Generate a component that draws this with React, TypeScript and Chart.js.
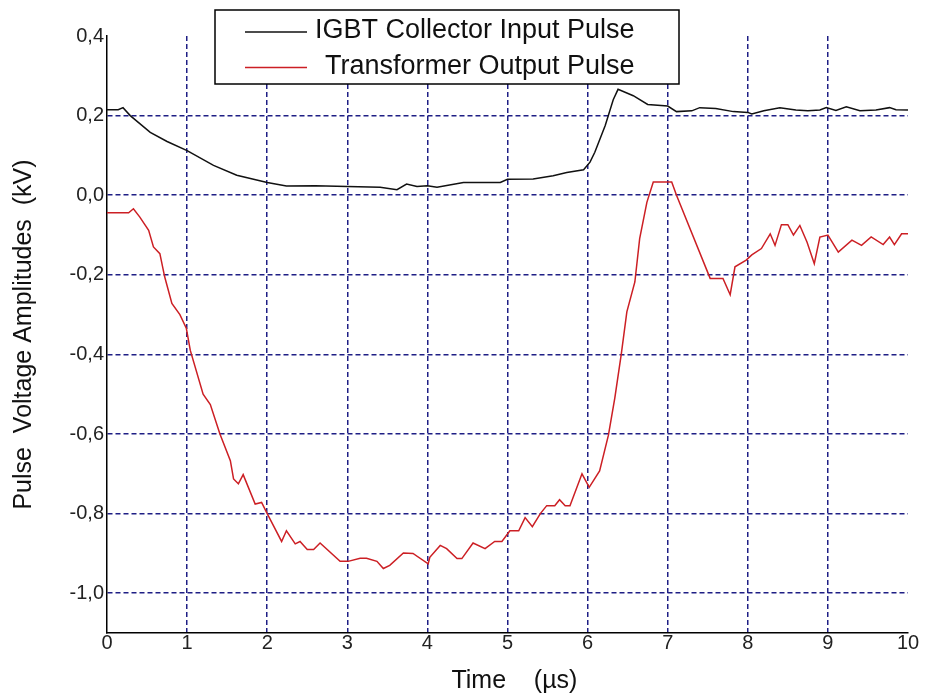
import React, { useEffect, useRef } from "react";
import { Chart, registerables } from "chart.js";

Chart.register(...registerables);

// ---- data ----
const igbtTime = [
  0, 0.14, 0.2, 0.29, 0.54, 0.75, 1.0, 1.33, 1.62, 2.0, 2.24, 2.6, 3.0, 3.41, 3.62, 3.74, 3.87, 4.0, 4.12,
  4.45, 4.91, 5.0, 5.32, 5.57, 5.74, 5.95, 6.03, 6.09, 6.22, 6.32, 6.38, 6.57, 6.75, 7.0, 7.11, 7.3, 7.4,
  7.6, 7.82, 8.0, 8.05, 8.2, 8.4, 8.6, 8.75, 8.9, 8.98, 9.1, 9.23, 9.4, 9.6, 9.77, 9.85, 10,
];
const igbtValue = [
  0.215, 0.215, 0.22, 0.2, 0.158, 0.135, 0.112, 0.075, 0.05, 0.032, 0.023, 0.024, 0.022, 0.02, 0.014, 0.028,
  0.022, 0.024, 0.02, 0.032, 0.032, 0.04, 0.041, 0.049, 0.057, 0.064, 0.083, 0.108, 0.175, 0.24, 0.266, 0.25,
  0.228, 0.224, 0.21, 0.212, 0.22, 0.218, 0.21, 0.208, 0.204, 0.212, 0.22, 0.214, 0.212, 0.214, 0.22, 0.213,
  0.222, 0.212, 0.214, 0.22, 0.215, 0.214,
];

const trafoTime = [
  0, 0.27, 0.33, 0.41, 0.52, 0.58, 0.66, 0.72, 0.81, 0.91, 0.99, 1.04, 1.2, 1.29, 1.41, 1.54, 1.58, 1.64,
  1.7, 1.85, 1.93, 2.0, 2.18, 2.24, 2.35, 2.41, 2.5, 2.58, 2.66, 2.91, 3.01, 3.16, 3.24, 3.37, 3.45, 3.53,
  3.7, 3.82, 4.01, 4.03, 4.16, 4.24, 4.37, 4.43, 4.57, 4.72, 4.84, 4.93, 5.03, 5.14, 5.22, 5.31, 5.41, 5.49,
  5.59, 5.65, 5.72, 5.78, 5.93, 6.02, 6.15, 6.26, 6.34, 6.42, 6.49, 6.59, 6.65, 6.74, 6.82, 7.05, 7.11,
  7.53, 7.69, 7.78, 7.84, 7.98, 8.05, 8.17, 8.28, 8.34, 8.42, 8.5, 8.57, 8.65, 8.74, 8.83, 8.9, 9.0, 9.13,
  9.3, 9.42, 9.54, 9.69, 9.77, 9.83, 9.92, 10,
];
const trafoValue = [
  -0.044, -0.044, -0.034, -0.055, -0.088, -0.13, -0.147, -0.205, -0.272, -0.3, -0.334, -0.39, -0.5, -0.526,
  -0.6, -0.667, -0.713, -0.725, -0.702, -0.776, -0.772, -0.8, -0.87, -0.843, -0.876, -0.87, -0.89, -0.89,
  -0.874, -0.92, -0.92, -0.912, -0.912, -0.92, -0.938, -0.93, -0.899, -0.9, -0.926, -0.91, -0.88, -0.888,
  -0.913, -0.913, -0.874, -0.888, -0.87, -0.87, -0.843, -0.843, -0.81, -0.833, -0.8, -0.78, -0.78, -0.765,
  -0.78, -0.78, -0.7, -0.734, -0.693, -0.603, -0.509, -0.4, -0.293, -0.218, -0.109, -0.018, 0.033, 0.033,
  0.0, -0.209, -0.209, -0.25, -0.18, -0.163, -0.15, -0.134, -0.097, -0.126, -0.074, -0.074, -0.1, -0.076,
  -0.118, -0.172, -0.105, -0.1, -0.143, -0.113, -0.126, -0.105, -0.124, -0.105, -0.124, -0.097, -0.097,
];

const seriesNames = ["IGBT Collector Input Pulse", "Transformer Output Pulse"];
const xTickValues = [0, 1, 2, 3, 4, 5, 6, 7, 8, 9, 10];
const yTickValues = [0.4, 0.2, 0.0, -0.2, -0.4, -0.6, -0.8, -1.0];
const xTitle = "  Time    (\u00b5s)";
const yTitle = "Pulse  Voltage Amplitudes  (kV)";

// ---- styles ----
const FONT = "'Liberation Sans', Arial, Helvetica, sans-serif";
const GRID_COLOR = "#1f1f85";
const LINE_COLORS = ["#111111", "#cc1f24"];

const legendPlugin = {
  id: "boxLegend",
  afterDraw(chart: any) {
    const { ctx } = chart;
    ctx.save();
    const bx = 215, by = 10, bw = 464, bh = 74;
    ctx.fillStyle = "#ffffff";
    ctx.fillRect(bx, by, bw, bh);
    ctx.strokeStyle = "#000000";
    ctx.lineWidth = 1.5;
    ctx.strokeRect(bx, by, bw, bh);
    const rows = [
      { ly: 32, tx: 315 },
      { ly: 67.5, tx: 325 },
    ];
    chart.data.datasets.forEach((ds: any, i: number) => {
      const r = rows[i];
      ctx.strokeStyle = ds.borderColor;
      ctx.lineWidth = 1.5;
      ctx.beginPath();
      ctx.moveTo(245, r.ly);
      ctx.lineTo(307, r.ly);
      ctx.stroke();
      ctx.fillStyle = "#111";
      ctx.font = `27px ${FONT}`;
      ctx.textBaseline = "middle";
      ctx.textAlign = "left";
      ctx.fillText(ds.label, r.tx, r.ly - 1);
    });
    ctx.restore();
  },
};

export default function App() {
  const canvasRef = useRef<HTMLCanvasElement | null>(null);

  useEffect(() => {
    const canvas = canvasRef.current;
    if (!canvas) return;
    const chart = new Chart(canvas, {
      type: "line",
      data: {
        datasets: [
          {
            label: seriesNames[0],
            data: igbtTime.map((t, i) => ({ x: t, y: igbtValue[i] })),
            borderColor: LINE_COLORS[0],
            borderWidth: 1.5,
            pointRadius: 0,
            tension: 0,
            fill: false,
          },
          {
            label: seriesNames[1],
            data: trafoTime.map((t, i) => ({ x: t, y: trafoValue[i] })),
            borderColor: LINE_COLORS[1],
            borderWidth: 1.5,
            pointRadius: 0,
            tension: 0,
            fill: false,
          },
        ],
      },
      options: {
        responsive: false,
        animation: false,
        events: [],
        layout: { padding: { left: 0, right: 17, top: 36, bottom: 0 } },
        plugins: {
          legend: { display: false },
          tooltip: { enabled: false },
        },
        scales: {
          x: {
            type: "linear",
            min: 0,
            max: 10,
            afterBuildTicks: (scale: any) => {
              scale.ticks = xTickValues.map((v) => ({ value: v }));
            },
            afterFit: (scale: any) => {
              scale.height = 66;
            },
            ticks: {
              autoSkip: false,
              maxRotation: 0,
              padding: -2,
              color: "#222",
              font: { family: FONT, size: 20 },
              callback: (v: any) => String(v),
            },
            grid: {
              drawTicks: false,
              lineWidth: 1.5,
              color: (c: any) =>
                c.tick && (c.tick.value === 0 || c.tick.value === 10) ? "rgba(0,0,0,0)" : GRID_COLOR,
            },
            border: { display: true, color: "#000", width: 1.5, dash: [5, 3] },
            title: {
              display: true,
              text: xTitle,
              color: "#111",
              font: { family: FONT, size: 25 },
              padding: { top: 0, bottom: 3 },
            },
          },
          y: {
            type: "linear",
            min: -1.1,
            max: 0.4,
            afterBuildTicks: (scale: any) => {
              scale.ticks = yTickValues.map((v) => ({ value: v }));
            },
            afterFit: (scale: any) => {
              scale.width = 107;
            },
            ticks: {
              autoSkip: false,
              padding: 3,
              color: "#222",
              font: { family: FONT, size: 20 },
              callback: (v: any) => Number(v).toFixed(1).replace(".", ","),
            },
            grid: {
              drawTicks: false,
              lineWidth: 1.5,
              color: (c: any) => (c.tick && c.tick.value === 0.4 ? "rgba(0,0,0,0)" : GRID_COLOR),
            },
            border: { display: true, color: "#000", width: 1.5, dash: [5, 3] },
            title: {
              display: true,
              text: yTitle,
              color: "#111",
              font: { family: FONT, size: 25 },
              padding: { top: 9, bottom: 0 },
            },
          },
        },
      },
      plugins: [legendPlugin],
    } as any);
    return () => chart.destroy();
  }, []);

  return (
    <div style={{ position: "fixed", left: 0, top: 0, width: 925, height: 699, background: "#fff" }}>
      <canvas ref={canvasRef} width={925} height={699} style={{ display: "block" }} />
    </div>
  );
}
